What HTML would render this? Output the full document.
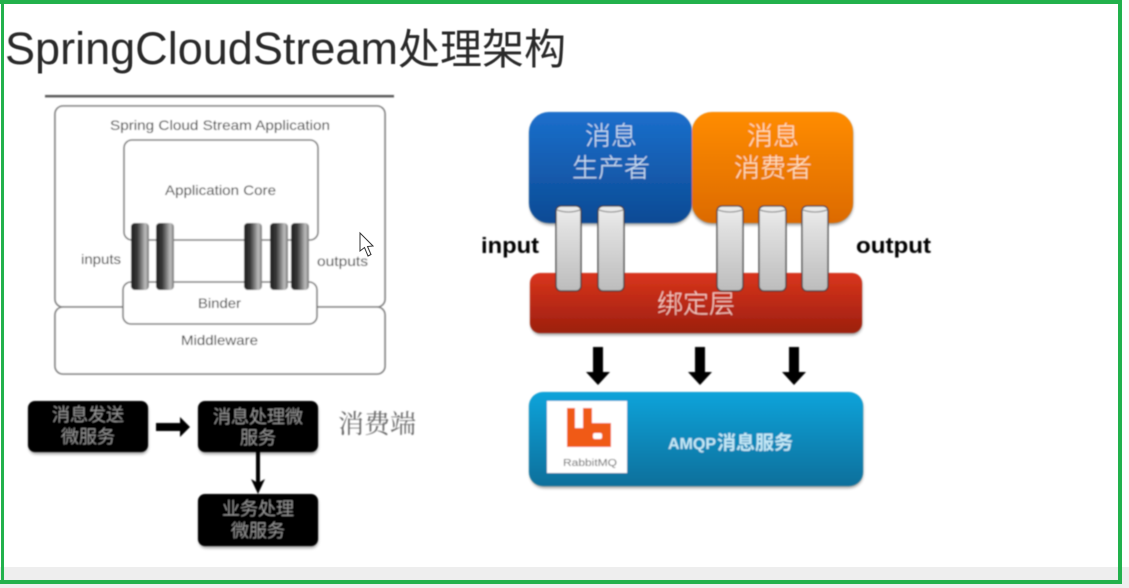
<!DOCTYPE html>
<html><head><meta charset="utf-8"><style>
html,body{margin:0;padding:0;background:#fff;width:1129px;height:588px;overflow:hidden}
svg{display:block}
text{font-family:"Liberation Sans","Noto Sans CJK SC",sans-serif}
</style></head><body>
<svg width="1129" height="588" viewBox="0 0 1129 588" xmlns="http://www.w3.org/2000/svg">
<defs>
<filter id="b" x="-5%" y="-5%" width="110%" height="110%"><feGaussianBlur stdDeviation="0.7"/></filter>
<filter id="b2" x="-5%" y="-20%" width="110%" height="140%"><feGaussianBlur stdDeviation="0.45"/></filter>
<filter id="s" x="-10%" y="-10%" width="120%" height="125%"><feGaussianBlur stdDeviation="1.5"/></filter>
<linearGradient id="blue" x1="0" y1="0" x2="0" y2="1"><stop offset="0" stop-color="#1b6fcc"/><stop offset="1" stop-color="#0c4a94"/></linearGradient>
<linearGradient id="orange" x1="0" y1="0" x2="0" y2="1"><stop offset="0" stop-color="#ff8c05"/><stop offset="1" stop-color="#dc6a00"/></linearGradient>
<linearGradient id="red" x1="0" y1="0" x2="0" y2="1"><stop offset="0" stop-color="#d9341c"/><stop offset="1" stop-color="#9c1f0e"/></linearGradient>
<linearGradient id="cyan" x1="0" y1="0" x2="0" y2="1"><stop offset="0" stop-color="#11a3da"/><stop offset="1" stop-color="#0a6f9b"/></linearGradient>
<linearGradient id="cyl" x1="0" y1="0" x2="1" y2="0"><stop offset="0" stop-color="#1c1c1c"/><stop offset=".35" stop-color="#3a3a3a"/><stop offset=".8" stop-color="#bdbdbd"/><stop offset="1" stop-color="#777"/></linearGradient>
<linearGradient id="cyl2" x1="0" y1="0" x2="0" y2="1"><stop offset="0" stop-color="#ececec"/><stop offset="1" stop-color="#bcbcbc"/></linearGradient>
</defs>
<rect width="1129" height="588" fill="#fff"/>
<rect x="0" y="567" width="1129" height="21" fill="#eeeeee"/>

<g fill="#2a2a2a" filter="url(#b2)">
<text x="5" y="64" font-size="45" textLength="393" lengthAdjust="spacingAndGlyphs">SpringCloudStream</text>
<text x="398" y="64" font-size="42" style="font-family:'Noto Sans CJK SC',sans-serif;font-weight:400">处理架构</text>
</g>

<g filter="url(#b)">
<rect x="45" y="95" width="349" height="2.4" fill="#555"/>
<g fill="none" stroke="#777" stroke-width="1.6">
<rect x="55" y="106" width="330" height="201" rx="8" fill="#fff"/>
<rect x="55" y="307" width="330" height="67" rx="8" fill="#fff"/>
<rect x="124" y="140" width="194" height="100" rx="8" fill="#fff"/>
<rect x="123" y="282" width="194" height="42" rx="8" fill="#fff"/>
</g>
<g fill="url(#cyl)">
<rect x="131" y="223" width="18" height="67" rx="4"/>
<rect x="156" y="223" width="18" height="67" rx="4"/>
<rect x="244" y="223" width="18" height="67" rx="4"/>
<rect x="270" y="223" width="18" height="67" rx="4"/>
<rect x="291" y="223" width="18" height="67" rx="4"/>
</g>
<g fill="#333" font-size="14">
<text x="110" y="130" textLength="220" lengthAdjust="spacingAndGlyphs">Spring Cloud Stream Application</text>
<text x="165" y="195" textLength="111" lengthAdjust="spacingAndGlyphs">Application Core</text>
<text x="198" y="308" textLength="43" lengthAdjust="spacingAndGlyphs">Binder</text>
<text x="181" y="345" textLength="77" lengthAdjust="spacingAndGlyphs">Middleware</text>
<text x="81" y="264" textLength="40" lengthAdjust="spacingAndGlyphs">inputs</text>
<text x="317" y="266" textLength="51" lengthAdjust="spacingAndGlyphs">outputs</text>
</g>
</g>
<path d="M360 233 L360 251 L364.500 247.500 L368 256 L371 254.500 L367.500 246.500 L373 246 Z" fill="#fff" stroke="#333" stroke-width="1"/>

<g fill="#000" opacity=".4" filter="url(#s)">
<rect x="29" y="403" width="119" height="51" rx="7"/>
<rect x="199" y="403" width="119" height="51" rx="7"/>
<rect x="199" y="496" width="119" height="52" rx="7"/>
<rect x="530" y="114" width="162" height="111" rx="20"/>
<rect x="692" y="114" width="161" height="111" rx="20"/>
<rect x="531" y="275" width="331" height="60" rx="10"/>
<rect x="530" y="394" width="333" height="94" rx="14"/>
</g>
<g filter="url(#b)">
<g fill="#000">
<rect x="28" y="401" width="120" height="51" rx="7"/>
<rect x="198" y="401" width="120" height="51" rx="7"/>
<rect x="198" y="494" width="120" height="52" rx="7"/>
<path d="M156 423 H180 V417 L190 427 L180 437 V431 H156 Z"/>
<rect x="256" y="450" width="4" height="36"/>
<path d="M251 479 L258 483 L265 479 L258 494 Z"/>
</g>
<g fill="#a8a8a8" font-size="18" text-anchor="middle" style="font-weight:300">
<text x="88" y="421">消息发送</text>
<text x="88" y="443">微服务</text>
<text x="258" y="423">消息处理微</text>
<text x="258" y="444">服务</text>
<text x="258" y="515">业务处理</text>
<text x="258" y="537">微服务</text>
</g>
<text x="338" y="433" font-size="26" fill="#666" style="font-family:'Noto Serif CJK SC',serif">消费端</text>
</g>

<g filter="url(#b)">
<rect x="529" y="112" width="163" height="111" rx="20" fill="url(#blue)"/>
<rect x="692" y="112" width="161" height="111" rx="20" fill="url(#orange)"/>
<rect x="530" y="273" width="332" height="60" rx="10" fill="url(#red)"/>
<g font-size="26" text-anchor="middle" style="font-weight:300">
<text x="611" y="145" fill="#cfe2f5">消息</text>
<text x="611" y="177" fill="#cfe2f5">生产者</text>
<text x="773" y="145" fill="#ffe6c6">消息</text>
<text x="773" y="177" fill="#ffe6c6">消费者</text>
<text x="696" y="313" fill="#f7cfc6">绑定层</text>
</g>
<g fill="url(#cyl2)" stroke="#333" stroke-width="1.3">
<rect x="556" y="206" width="25" height="85" rx="5"/>
<rect x="598" y="206" width="26" height="85" rx="5"/>
<rect x="717" y="206" width="26" height="85" rx="5"/>
<rect x="759" y="206" width="27" height="85" rx="5"/>
<rect x="802" y="206" width="26" height="85" rx="5"/>
</g>
<g fill="none" stroke="#777" stroke-width="1">
<path d="M557 210 Q568.500 214 580 210"/>
<path d="M599 210 Q611 214 623 210"/>
<path d="M718 210 Q730 214 742 210"/>
<path d="M760 210 Q772 214 785 210"/>
<path d="M803 210 Q815 214 827 210"/>
</g>
<g fill="#000" font-size="22" font-weight="bold">
<text x="481" y="253" textLength="58" lengthAdjust="spacingAndGlyphs">input</text>
<text x="856" y="253" textLength="75" lengthAdjust="spacingAndGlyphs">output</text>
</g>
<g fill="#000">
<path d="M593 347 H603 V372 H610 L598 385 L586 372 H593 Z"/>
<path d="M695 347 H705 V372 H712 L700 385 L688 372 H695 Z"/>
<path d="M789 347 H799 V372 H806 L794 385 L782 372 H789 Z"/>
</g>
<rect x="529" y="392" width="334" height="94" rx="14" fill="url(#cyan)"/>
<rect x="547" y="401" width="80" height="72" fill="#fff"/>
<path d="M567 408 H575 V428 H583 V408 H592 V423 H611 V447 H567 Z" fill="#f05a14"/>
<rect x="593" y="433" width="9" height="6" rx="2" fill="#fff"/>
<text x="563" y="466" font-size="10" fill="#666" textLength="54" lengthAdjust="spacingAndGlyphs">RabbitMQ</text>
<text x="668" y="449" font-weight="bold" fill="#c5e8f6" font-size="16">AMQP<tspan font-size="19" dx="1">消息服务</tspan></text>
</g>

<g fill="#22b14c">
<rect x="0" y="0" width="1122" height="4"/>
<rect x="1" y="0" width="3" height="584"/>
<rect x="1118" y="0" width="4" height="584"/>
<rect x="0" y="580" width="1122" height="4"/>
</g>
</svg>
</body></html>
